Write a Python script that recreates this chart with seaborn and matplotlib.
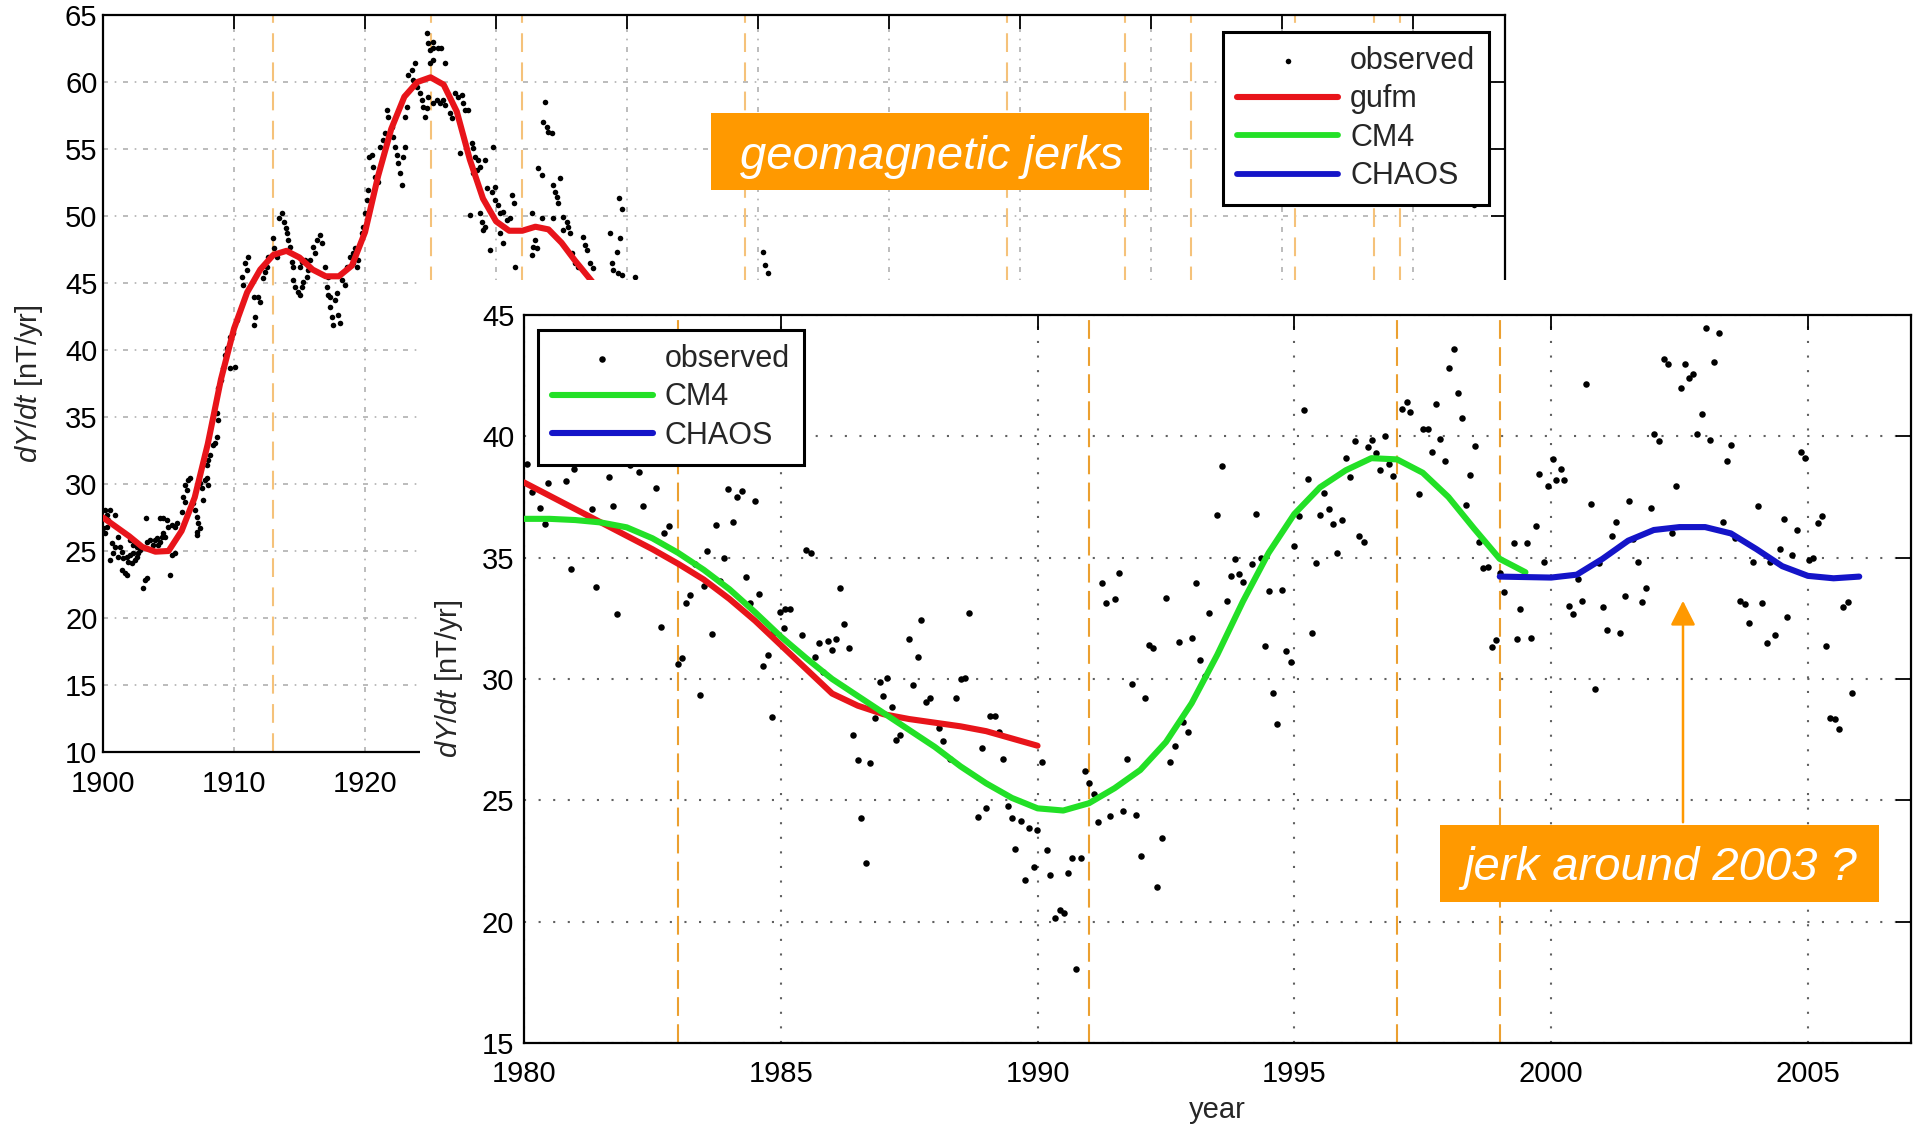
import matplotlib
matplotlib.use("Agg")
import matplotlib.pyplot as plt
from matplotlib.patches import Rectangle, FancyArrowPatch
import seaborn as sns
import pandas as pd

# ---------------- data ----------------
jerks_bg = [1913, 1925, 1932, 1949, 1969, 1978, 1983, 1991, 1997, 1999]
jerks_fg = [1983, 1991, 1997, 1999]

gufm_early_year = [1900, 1901, 1902, 1903, 1904, 1905, 1906, 1907, 1908, 1909, 1910,
                   1911, 1912, 1913, 1914, 1915, 1916, 1917, 1918, 1919, 1920, 1921,
                   1922, 1923, 1924, 1925, 1926, 1927, 1928, 1929, 1930, 1931, 1932,
                   1933, 1934, 1935, 1936, 1937, 1938]
gufm_early_val = [27.5, 26.8, 26.1, 25.3, 24.95, 25.0, 26.5, 29.0, 33.0, 37.8, 41.6,
                  44.3, 46.0, 47.1, 47.4, 46.9, 46.0, 45.5, 45.5, 46.3, 48.8, 53.0,
                  56.5, 58.9, 60.0, 60.35, 59.8, 57.8, 54.2, 51.3, 49.6, 48.9, 48.9,
                  49.2, 49.0, 48.0, 46.7, 45.5, 44.3]

gufm_year = [1980, 1980.5, 1981, 1981.5, 1982, 1982.5, 1983, 1983.5, 1984, 1984.5, 1985,
             1985.5, 1986, 1986.5, 1987, 1987.5, 1988, 1988.5, 1989, 1989.5, 1990]
gufm_val = [38.1, 37.55, 37.0, 36.45, 35.9, 35.35, 34.75, 34.1, 33.3, 32.4, 31.4,
            30.4, 29.4, 28.9, 28.55, 28.35, 28.2, 28.05, 27.85, 27.55, 27.25]

cm4_year = [1980, 1980.5, 1981, 1981.5, 1982, 1982.5, 1983, 1983.5, 1984, 1984.5, 1985,
            1985.5, 1986, 1986.5, 1987, 1987.5, 1988, 1988.5, 1989, 1989.5, 1990,
            1990.5, 1991, 1991.5, 1992, 1992.5, 1993, 1993.5, 1994, 1994.5, 1995,
            1995.5, 1996, 1996.5, 1997, 1997.5, 1998, 1998.5, 1999, 1999.5]
cm4_val = [36.6, 36.6, 36.55, 36.45, 36.25, 35.8, 35.2, 34.5, 33.7, 32.75, 31.75,
           30.85, 30.0, 29.3, 28.6, 27.9, 27.2, 26.4, 25.7, 25.1, 24.67,
           24.58, 24.88, 25.5, 26.25, 27.4, 29.0, 31.0, 33.2, 35.2, 36.8,
           37.9, 38.6, 39.1, 39.05, 38.5, 37.5, 36.2, 34.95, 34.4]

chaos_year = [1999, 1999.5, 2000, 2000.5, 2001, 2001.5, 2002, 2002.5, 2003, 2003.5,
              2004, 2004.5, 2005, 2005.5, 2006]
chaos_val = [34.22, 34.2, 34.18, 34.3, 34.95, 35.7, 36.14, 36.26, 36.26, 36.0,
             35.35, 34.65, 34.25, 34.15, 34.22]

obs_early_year = [
    1900.15, 1900.28, 1900.41, 1900.28, 1900.03, 1900.15, 1900.53, 1900.92, 1900.66, 1900.92,
    1900.53, 1900.79, 1901.17, 1901.30, 1901.43, 1901.17, 1901.43, 1901.68, 1901.81, 1901.55,
    1901.81, 1901.93, 1902.06, 1902.19, 1902.31, 1902.44, 1902.57, 1902.69, 1902.82, 1902.06,
    1902.31, 1902.57, 1903.08, 1903.21, 1903.34, 1903.25, 1903.34, 1903.59, 1903.84, 1903.97,
    1904.10, 1904.22, 1904.35, 1904.48, 1904.60, 1904.73, 1904.35, 1904.60, 1904.86, 1905.11,
    1905.24, 1905.50, 1904.99, 1905.24, 1905.50, 1905.62, 1906.00, 1906.26, 1906.13, 1906.39,
    1906.26, 1906.51, 1906.64, 1906.90, 1907.02, 1907.15, 1907.27, 1907.15, 1907.40, 1907.15,
    1907.40, 1907.53, 1907.79, 1907.91, 1908.04, 1907.65, 1907.91, 1908.04, 1908.17, 1908.42,
    1908.55, 1908.68, 1908.80, 1908.68, 1908.80, 1908.98, 1909.14, 1909.31, 1909.44, 1909.69,
    1910.08, 1909.69, 1909.95, 1910.20, 1910.59, 1910.70, 1910.97, 1910.84, 1911.10, 1911.53,
    1911.60, 1911.55, 1911.86, 1911.98, 1912.24, 1912.37, 1912.50, 1912.60, 1912.95, 1913.25,
    1913.07, 1913.46, 1913.64, 1913.82, 1913.97, 1914.02, 1914.15, 1914.27, 1914.40, 1914.53,
    1914.53, 1914.66, 1914.91, 1915.04, 1915.17, 1915.29, 1915.04, 1915.17, 1915.42, 1915.55,
    1915.67, 1915.80, 1916.05, 1916.18, 1916.31, 1916.56, 1916.69, 1916.95, 1917.20, 1917.08,
    1917.20, 1917.33, 1917.46, 1917.58, 1917.33, 1917.71, 1917.84, 1917.97, 1918.09, 1918.22,
    1918.47, 1918.60, 1918.85, 1919.11, 1919.11, 1919.37, 1919.49, 1919.24, 1919.74, 1919.87,
    1920.00, 1920.13, 1920.25, 1920.32, 1920.51, 1920.63, 1920.76, 1921.02, 1921.15, 1921.40,
    1921.53, 1921.66, 1921.78, 1922.04, 1922.16, 1922.29, 1922.42, 1922.54, 1922.67, 1922.80,
    1922.92, 1923.05, 1923.05, 1923.18, 1923.31, 1923.56, 1923.82, 1923.69, 1923.95, 1924.20,
    1924.33, 1924.45, 1924.58, 1924.71, 1924.83, 1924.96, 1925.21, 1924.96, 1925.21, 1924.83,
    1925.21, 1925.47, 1925.21, 1925.60, 1925.78, 1926.10, 1924.71, 1925.73, 1926.10, 1925.93,
    1926.49, 1926.62, 1926.87, 1927.12, 1927.38, 1927.50, 1927.63, 1927.89, 1927.25, 1928.14,
    1928.26, 1928.40, 1928.65, 1928.78, 1928.52, 1928.26, 1929.16, 1929.79, 1928.02, 1928.78,
    1929.28, 1929.67, 1929.92, 1928.90, 1929.03, 1929.16, 1929.54, 1929.92, 1930.18, 1930.31,
    1930.56, 1930.82, 1931.07, 1931.20, 1931.33, 1930.31, 1930.56, 1931.45, 1932.72, 1932.98,
    1932.85, 1933.10, 1932.72, 1933.49, 1933.74, 1933.61, 1933.87, 1934.00, 1934.25, 1933.23,
    1933.49, 1934.38, 1934.50, 1934.63, 1934.76, 1934.89, 1934.38, 1935.14, 1935.40, 1935.14,
    1935.52, 1935.65, 1935.78, 1936.03, 1936.28, 1936.66, 1936.79, 1936.92, 1937.18, 1937.43,
    1938.73, 1939.47, 1939.21, 1938.83, 1938.96, 1939.34, 1939.60, 1940.61, 1939.39, 1939.64,
    1950.40, 1950.53, 1950.79, 2004.60]
obs_early_val = [
    28.06, 27.69, 27.31, 26.81, 26.69, 26.32, 28.06, 27.69, 25.57, 25.32,
    24.33, 24.83, 26.07, 25.32, 24.95, 24.58, 23.58, 23.34, 23.21, 24.46,
    24.58, 24.20, 24.70, 24.08, 24.83, 24.33, 24.58, 24.83, 25.08, 25.80,
    25.45, 25.32, 22.22, 22.84, 22.96, 27.44, 25.70, 25.82, 25.45, 25.82,
    25.95, 25.45, 25.70, 26.07, 26.32, 26.07, 27.44, 27.44, 27.31, 23.21,
    24.70, 24.83, 26.81, 26.94, 26.81, 27.07, 27.93, 28.68, 29.05, 29.55,
    29.93, 30.30, 30.43, 28.56, 28.06, 27.56, 27.07, 26.44, 26.69, 26.19,
    30.05, 29.68, 30.30, 30.43, 29.93, 28.81, 31.43, 31.80, 32.17, 32.92,
    33.04, 33.53, 34.78, 35.28, 37.14, 37.76, 38.63, 39.63, 40.13, 38.63,
    38.75, 41.00, 41.25, 42.24, 45.47, 44.85, 45.97, 46.47, 46.96, 43.98,
    42.49, 41.87, 43.98, 43.60, 45.35, 45.84, 46.22, 46.96, 48.33, 46.96,
    47.59, 49.83, 50.20, 49.58, 49.08, 48.71, 48.20, 47.71, 46.59, 46.22,
    45.22, 44.72, 44.35, 44.10, 44.72, 45.10, 46.22, 46.59, 46.72, 45.47,
    45.97, 46.72, 47.71, 47.22, 48.20, 48.58, 47.96, 46.22, 45.47, 44.72,
    44.10, 43.23, 42.49, 41.87, 43.98, 43.73, 44.23, 42.61, 41.99, 45.22,
    44.85, 46.22, 46.96, 47.22, 46.47, 46.22, 46.72, 47.59, 48.71, 49.20,
    50.20, 51.19, 51.94, 54.43, 54.55, 53.68, 52.93, 52.56, 55.17, 55.67,
    56.17, 57.91, 57.41, 56.67, 55.92, 55.17, 54.55, 53.93, 53.18, 52.31,
    54.43, 55.17, 57.41, 58.16, 60.52, 60.90, 61.40, 60.15, 59.65, 59.16,
    58.66, 58.16, 57.41, 63.63, 62.89, 62.39, 62.51, 61.40, 61.64, 58.90,
    58.41, 58.66, 62.96, 62.51, 62.56, 61.44, 58.04, 58.41, 58.28, 58.66,
    57.66, 57.29, 59.16, 58.90, 59.03, 58.41, 57.91, 57.91, 54.68, 55.42,
    55.05, 54.43, 54.18, 53.68, 53.43, 53.19, 54.18, 55.17, 50.07, 50.20,
    52.07, 51.81, 52.19, 49.58, 48.96, 49.20, 47.46, 51.19, 50.82, 50.20,
    50.32, 49.70, 49.83, 51.57, 50.95, 48.71, 47.96, 46.22, 50.20, 48.20,
    47.71, 47.59, 47.09, 49.83, 58.53, 57.04, 56.67, 56.29, 56.17, 53.56,
    53.06, 52.31, 51.81, 51.44, 50.95, 52.81, 49.83, 49.95, 49.58, 48.96,
    49.20, 48.71, 47.22, 46.47, 46.22, 48.46, 47.84, 47.46, 46.47, 46.10,
    48.71, 48.33, 47.34, 46.47, 45.97, 45.72, 45.60, 45.47, 51.32, 50.50,
    47.34, 46.34, 45.72, 50.80]

obs_year = [
    1980.05, 1980.15, 1980.31, 1980.41, 1980.47, 1980.81, 1980.91, 1980.98, 1981.32, 1981.40,
    1981.66, 1981.74, 1981.82, 1982.07, 1982.24, 1982.31, 1982.57, 1982.66, 1982.73, 1982.83,
    1982.99, 1983.07, 1983.16, 1983.24, 1983.32, 1983.42, 1983.50, 1983.57, 1983.66, 1983.74,
    1983.82, 1983.90, 1983.98, 1984.07, 1984.15, 1984.24, 1984.32, 1984.41, 1984.49, 1984.57,
    1984.66, 1984.75, 1984.82, 1984.85, 1984.99, 1985.07, 1985.09, 1985.17, 1985.42, 1985.50,
    1985.58, 1985.66, 1985.74, 1985.82, 1985.91, 1986.00, 1986.08, 1986.16, 1986.24, 1986.32,
    1986.41, 1986.50, 1986.57, 1986.66, 1986.74, 1986.83, 1986.94, 1987.00, 1987.07, 1987.17,
    1987.25, 1987.33, 1987.49, 1987.58, 1987.67, 1987.74, 1987.83, 1987.91, 1988.08, 1988.16,
    1988.30, 1988.41, 1988.50, 1988.58, 1988.66, 1988.84, 1988.92, 1989.00, 1989.08, 1989.17,
    1989.25, 1989.33, 1989.42, 1989.51, 1989.57, 1989.67, 1989.75, 1989.83, 1989.93, 1989.99,
    1990.09, 1990.18, 1990.25, 1990.33, 1990.43, 1990.51, 1990.59, 1990.67, 1990.75, 1990.84,
    1990.92, 1991.00, 1991.09, 1991.18, 1991.25, 1991.34, 1991.42, 1991.51, 1991.59, 1991.67,
    1991.75, 1991.83, 1991.92, 1992.01, 1992.09, 1992.17, 1992.25, 1992.33, 1992.43, 1992.51,
    1992.58, 1992.67, 1992.75, 1992.84, 1992.92, 1993.00, 1993.08, 1993.16, 1993.26, 1993.34,
    1993.50, 1993.59, 1993.68, 1993.76, 1993.85, 1993.92, 1994.01, 1994.17, 1994.26, 1994.35,
    1994.42, 1994.51, 1994.59, 1994.67, 1994.76, 1994.83, 1994.93, 1995.00, 1995.09, 1995.18,
    1995.26, 1995.34, 1995.43, 1995.50, 1995.58, 1995.68, 1995.76, 1995.84, 1995.93, 1996.00,
    1996.09, 1996.18, 1996.26, 1996.35, 1996.43, 1996.51, 1996.59, 1996.67, 1996.77, 1996.84,
    1996.93, 1997.09, 1997.19, 1997.26, 1997.43, 1997.51, 1997.60, 1997.68, 1997.76, 1997.84,
    1997.93, 1998.02, 1998.10, 1998.18, 1998.27, 1998.34, 1998.43, 1998.52, 1998.60, 1998.68,
    1998.77, 1998.85, 1998.93, 1999.01, 1999.09, 1999.27, 1999.34, 1999.40, 1999.53, 1999.61,
    1999.70, 1999.77, 1999.86, 1999.94, 2000.03, 2000.10, 2000.19, 2000.25, 2000.34, 2000.43,
    2000.52, 2000.60, 2000.68, 2000.77, 2000.85, 2000.93, 2001.02, 2001.09, 2001.18, 2001.27,
    2001.35, 2001.43, 2001.51, 2001.60, 2001.69, 2001.77, 2001.85, 2001.94, 2002.01, 2002.10,
    2002.19, 2002.27, 2002.35, 2002.44, 2002.52, 2002.60, 2002.68, 2002.76, 2002.85, 2002.94,
    2003.02, 2003.10, 2003.18, 2003.27, 2003.35, 2003.43, 2003.51, 2003.59, 2003.68, 2003.77,
    2003.86, 2003.93, 2004.02, 2004.10, 2004.20, 2004.27, 2004.36, 2004.45, 2004.53, 2004.60,
    2004.70, 2004.78, 2004.86, 2004.94, 2005.02, 2005.10, 2005.20, 2005.28, 2005.35, 2005.44,
    2005.52, 2005.61, 2005.69, 2005.78, 2005.86]
obs_val = [
    38.86, 37.72, 37.03, 36.38, 38.07, 38.17, 34.52, 38.65, 36.99, 33.80,
    38.34, 37.13, 32.68, 38.82, 38.54, 37.13, 37.86, 32.16, 36.00, 36.31,
    30.61, 30.86, 33.15, 33.46, 34.74, 29.34, 33.83, 35.29, 31.84, 36.35,
    34.05, 35.00, 37.81, 36.49, 37.51, 37.75, 34.19, 33.15, 37.35, 33.50,
    30.55, 30.99, 28.42, 31.88, 32.78, 32.09, 32.87, 32.87, 31.81, 35.32,
    35.21, 30.92, 31.50, 30.30, 31.58, 31.20, 31.64, 33.77, 32.26, 31.29,
    27.70, 26.66, 24.26, 22.43, 26.55, 28.41, 29.89, 29.30, 30.03, 28.86,
    27.50, 27.70, 31.65, 29.75, 30.90, 32.43, 29.07, 29.23, 28.00, 27.46,
    26.69, 29.23, 30.00, 30.06, 32.71, 24.33, 27.15, 24.67, 28.49, 28.49,
    27.83, 26.69, 24.77, 24.26, 23.00, 24.15, 21.70, 23.85, 22.24, 23.78,
    26.57, 22.96, 21.93, 20.14, 20.48, 20.35, 22.00, 22.64, 18.04, 22.64,
    26.21, 25.73, 25.25, 24.12, 33.97, 33.15, 24.36, 33.29, 34.38, 24.54,
    26.69, 29.78, 24.40, 22.72, 29.21, 31.40, 31.29, 21.42, 23.44, 33.35,
    26.60, 27.24, 31.54, 28.22, 27.83, 31.68, 33.95, 30.79, 30.13, 32.73,
    36.76, 38.79, 33.22, 34.26, 34.93, 34.32, 34.01, 34.73, 36.79, 34.97,
    31.36, 33.63, 29.44, 28.14, 33.67, 31.16, 30.72, 35.50, 36.72, 41.09,
    38.24, 31.88, 34.77, 36.76, 37.68, 37.00, 36.38, 35.21, 36.55, 39.12,
    38.34, 39.81, 35.91, 35.63, 39.55, 39.83, 39.30, 38.61, 40.00, 38.86,
    38.38, 41.13, 41.43, 40.99, 37.61, 40.30, 40.29, 39.34, 41.32, 39.89,
    39.00, 42.83, 43.59, 41.80, 40.74, 37.17, 38.41, 39.60, 35.66, 34.56,
    34.60, 31.31, 31.61, 34.36, 33.60, 35.59, 31.65, 32.87, 35.60, 31.67,
    36.29, 38.46, 34.82, 37.97, 39.08, 38.21, 38.65, 38.21, 33.00, 32.68,
    34.14, 33.20, 42.16, 37.20, 29.58, 34.79, 32.95, 32.02, 35.90, 36.47,
    31.89, 33.41, 37.35, 35.77, 34.82, 33.16, 33.73, 37.04, 40.08, 39.79,
    43.18, 42.97, 36.02, 37.94, 41.99, 42.97, 42.42, 42.58, 40.08, 40.90,
    44.48, 39.84, 43.05, 44.24, 36.47, 38.98, 39.63, 35.80, 33.22, 33.09,
    32.32, 34.84, 37.11, 33.12, 31.50, 34.82, 31.83, 35.36, 36.61, 32.56,
    35.12, 36.13, 39.36, 39.11, 34.92, 35.00, 36.42, 36.71, 31.37, 28.39,
    28.36, 27.95, 32.95, 33.16, 29.42]

bg_xticks = list(range(1900, 2001, 10))
bg_xticklabels = ["1900", "1910", "1920"] + [""] * 8   # the rest lie under the inset
bg_yticks = list(range(10, 66, 5))
fg_xticks = list(range(1980, 2006, 5))
fg_yticks = list(range(15, 46, 5))

# ---------------- style ----------------
sns.set_style("white")
plt.rcParams.update({
    "xtick.direction": "in", "ytick.direction": "in",
    "xtick.top": True, "ytick.right": True,
    "axes.linewidth": 1.6,
    "mathtext.fontset": "custom",
    "mathtext.rm": "Liberation Sans",
    "mathtext.it": "Liberation Sans:italic",
})
plt.rcParams["font.family"] = ["Liberation Sans", "DejaVu Sans"]

RED = "#e8141a"
GREEN = "#22e026"
BLUE = "#1414c8"
ORANGE = "#ff9900"

W, H = 1921.0, 1127.0
def fx(px):
    return px / W
def fy(py):
    return 1.0 - py / H

fig = plt.figure(figsize=(19.21, 11.27), dpi=100)
fig.patch.set_facecolor("white")

# ---------------- background chart ----------------
ax_bg = fig.add_axes([fx(103), fy(752), fx(1505) - fx(103), fy(15) - fy(752)])
ax_bg.set_zorder(0)
for yr in jerks_bg:
    ax_bg.axvline(yr, color="#f5c27a", linestyle=(0, (9, 5)), linewidth=1.5, zorder=1)

sns.scatterplot(x=obs_early_year, y=obs_early_val, ax=ax_bg, color="black", s=16,
                linewidth=0, label="observed", zorder=3)
sns.lineplot(x=gufm_early_year, y=gufm_early_val, ax=ax_bg, color=RED, linewidth=4.4,
             label="gufm", estimator=None, zorder=4)
sns.lineplot(x=cm4_year, y=cm4_val, ax=ax_bg, color=GREEN, linewidth=4.2,
             label="CM4", estimator=None, zorder=4)
sns.lineplot(x=chaos_year, y=chaos_val, ax=ax_bg, color=BLUE, linewidth=4.2,
             label="CHAOS", estimator=None, zorder=4)

ax_bg.set_xlim(1900, 2007)
ax_bg.set_ylim(10, 65)
ax_bg.set_xticks(bg_xticks)
ax_bg.set_xticklabels(bg_xticklabels)
ax_bg.set_yticks(bg_yticks)
ax_bg.grid(True, linestyle=(0, (3, 4, 1, 4)), color="#b0b0b0", linewidth=1.2)
ax_bg.set_axisbelow(True)
ax_bg.tick_params(axis="both", which="both", length=10, width=1.3, labelsize=21,
                  colors="black")
ax_bg.tick_params(axis="x", pad=13)
ax_bg.tick_params(axis="y", pad=4)
ax_bg.set_xlabel("")
ax_bg.set_ylabel(r"$dY/dt$ [nT/yr]", fontsize=21, labelpad=14)
for sp in ax_bg.spines.values():
    sp.set_color("black")
    sp.set_linewidth(1.6)

h, l = ax_bg.get_legend_handles_labels()
leg_bg = ax_bg.legend(h, l, loc="upper right", bbox_to_anchor=(0.9886, 0.9769),
                      borderaxespad=0, fontsize=22, frameon=True, fancybox=False,
                      framealpha=1, edgecolor="black", handlelength=3.3,
                      handletextpad=0.4, borderpad=0.45, labelspacing=0.28)
leg_bg.get_frame().set_linewidth(2.2)

# orange annotation box on background
fig.add_artist(Rectangle((fx(711), fy(190)), fx(1149) - fx(711), fy(113) - fy(190),
                         transform=fig.transFigure, facecolor=ORANGE, edgecolor="none",
                         zorder=3))
fig.text(fx(932), fy(157), "geomagnetic jerks", color="white", fontsize=34,
         style="italic", ha="center", va="center", zorder=4)

# white cover for the inset
cover = Rectangle((fx(420), 0), 1 - fx(420), fy(280), transform=fig.transFigure,
                  facecolor="white", edgecolor="none", zorder=1.5)
fig.add_artist(cover)

# ---------------- foreground chart ----------------
ax_fg = fig.add_axes([fx(524), fy(1043), fx(1910.6) - fx(524), fy(315) - fy(1043)])
ax_fg.set_zorder(2)
ax_fg.set_facecolor("white")
for yr in jerks_fg:
    ax_fg.axvline(yr, color="#eba030", linestyle=(0, (9, 4)), linewidth=1.5, zorder=1)

sns.scatterplot(x=obs_year, y=obs_val, ax=ax_fg, color="black", s=22, linewidth=0,
                label="observed", zorder=3)
sns.lineplot(x=gufm_year, y=gufm_val, ax=ax_fg, color=RED, linewidth=4.4,
             estimator=None, zorder=4)
sns.lineplot(x=cm4_year, y=cm4_val, ax=ax_fg, color=GREEN, linewidth=4.4,
             label="CM4", estimator=None, zorder=4)
sns.lineplot(x=chaos_year, y=chaos_val, ax=ax_fg, color=BLUE, linewidth=4.4,
             label="CHAOS", estimator=None, zorder=5)

ax_fg.set_xlim(1980, 2007)
ax_fg.set_ylim(15, 45)
ax_fg.set_xticks(fg_xticks)
ax_fg.set_yticks(fg_yticks)
ax_fg.grid(True, linestyle=(0, (1, 6)), color="#606060", linewidth=1.5)
ax_fg.set_axisbelow(True)
ax_fg.tick_params(axis="both", which="both", length=11, width=1.3, labelsize=21,
                  colors="black")
ax_fg.tick_params(axis="x", pad=12)
ax_fg.tick_params(axis="y", pad=7)
ax_fg.set_xlabel("year", fontsize=21, labelpad=6)
ax_fg.set_ylabel(r"$dY/dt$ [nT/yr]", fontsize=21, labelpad=12)
for sp in ax_fg.spines.values():
    sp.set_color("black")
    sp.set_linewidth(1.6)

h, l = ax_fg.get_legend_handles_labels()
keep = [(hh, ll) for hh, ll in zip(h, l) if ll in ("observed", "CM4", "CHAOS")]
leg_fg = ax_fg.legend([k[0] for k in keep], [k[1] for k in keep], loc="upper left",
                      bbox_to_anchor=(0.0101, 0.9794), borderaxespad=0, fontsize=22,
                      frameon=True, fancybox=False, framealpha=1, edgecolor="black",
                      handlelength=3.3, handletextpad=0.4, borderpad=0.45,
                      labelspacing=0.28)
leg_fg.get_frame().set_linewidth(2.2)

# orange annotation box + arrow on foreground
fig.add_artist(Rectangle((fx(1440), fy(902)), fx(1879) - fx(1440), fy(825) - fy(902),
                         transform=fig.transFigure, facecolor=ORANGE, edgecolor="none",
                         zorder=5))
fig.text(fx(1660), fy(868), "jerk around 2003 ?", color="white", fontsize=34,
         style="italic", ha="center", va="center", zorder=6)
arrow = FancyArrowPatch((fx(1683), fy(825)), (fx(1683), fy(598)),
                        transform=fig.transFigure,
                        arrowstyle="-|>,head_length=0.75,head_width=0.38",
                        mutation_scale=20, color=ORANGE, linewidth=1.8, zorder=6)
fig.add_artist(arrow)

fig.savefig("out.png", dpi=100, facecolor="white")
